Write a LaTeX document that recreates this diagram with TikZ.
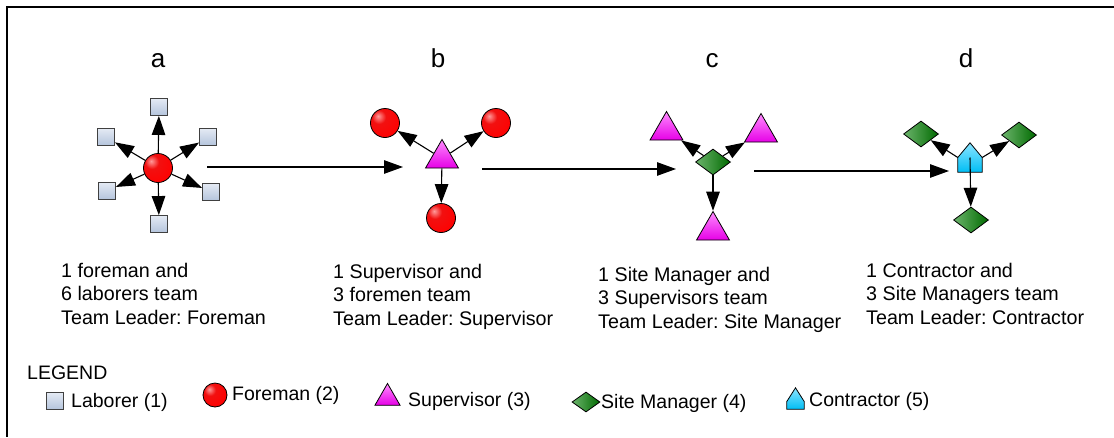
\documentclass[tikz,border=0pt]{standalone}
\usepackage{fontspec}
\setmainfont{Liberation Sans}
\usetikzlibrary{shapes.geometric,arrows.meta}
\frenchspacing

\definecolor{sqlight}{HTML}{E4EAF4}
\definecolor{sqdark}{HTML}{B4C4DC}
\definecolor{sqedge}{HTML}{404040}
\definecolor{maglight}{HTML}{FF8CFF}
\definecolor{magdark}{HTML}{E600E6}
\definecolor{grnlight}{HTML}{6CB46C}
\definecolor{grndark}{HTML}{006A00}
\definecolor{cyalight}{HTML}{8AE4FF}
\definecolor{cyadark}{HTML}{00BEF5}
\definecolor{redhi}{HTML}{FF9A9A}
\definecolor{redmid}{HTML}{F21010}
\definecolor{redlow}{HTML}{C80000}

% bright red sphere with a highlight towards the upper left
\pgfdeclareradialshading{redball}{\pgfpoint{-12bp}{12bp}}{%
  color(0bp)=(redhi); color(12bp)=(redmid); color(38bp)=(red); color(50bp)=(redlow); color(100bp)=(redlow)}

\tikzset{
  laborer/.style={draw=sqedge, line width=0.9pt, minimum size=17pt, inner sep=0pt,
    top color=sqlight, bottom color=sqdark},
  foreman/.style={circle, draw=black, line width=0.8pt, minimum size=#1, inner sep=0pt,
    shading=redball},
  foreman/.default=29pt,
  supervisor/.style={regular polygon, regular polygon sides=3, draw=black, line width=0.8pt,
    minimum size=#1, inner sep=0pt, top color=maglight, bottom color=magdark},
  supervisor/.default=38pt,
  sitemgr/.style={diamond, draw=black, line width=0.8pt, minimum width=#1, minimum height=26pt,
    inner sep=0pt, shading angle=45, left color=grnlight, right color=grndark},
  sitemgr/.default=35pt,
  housebox/.style={minimum width=24pt, minimum height=29pt, inner sep=0pt},
  houseshade/.style={draw=black, line width=0.8pt, top color=cyalight, bottom color=cyadark},
  arr/.style={draw=black, line width=1.1pt, -{Triangle[length=19pt,width=13.5pt]}},
  title/.style={font=\fontsize{26}{30}\selectfont, anchor=base},
  desc/.style={font=\fontsize{19.7}{23.5}\selectfont, align=left, anchor=north west, inner sep=0pt},
  leg/.style={font=\fontsize{19.5}{23}\selectfont, anchor=base west, inner sep=0pt},
}

\begin{document}
\begin{tikzpicture}[x=1pt, y=-1pt]
\useasboundingbox (0,0) rectangle (1114,437);
\fill[white] (0,0) rectangle (1114,437);

% frame (top and left edges)
\draw[line width=1.4pt] (1114,7) -- (7,7) -- (7,437);

% column titles
\node[title] (ta) at (158,67) {a};
\node[title] (tb) at (438,67) {b};
\node[title] (tc) at (712,67) {c};
\node[title] (td) at (966,67) {d};

% team a: foreman with six laborers
\node[foreman] (a0) at (158,168) {};
\node[laborer] (a1) at (159,107) {};
\node[laborer] (a2) at (106,137) {};
\node[laborer] (a3) at (208,137) {};
\node[laborer] (a4) at (107,191) {};
\node[laborer] (a5) at (211,192) {};
\node[laborer] (a6) at (159,224) {};
\foreach \i in {1,...,6} \draw[arr] (a0) -- (a\i);

% team b: supervisor with three foremen
\node[supervisor] (b0) at (442,158.5) {};
\node[foreman] (b1) at (385,123) {};
\node[foreman] (b2) at (496,123) {};
\node[foreman] (b3) at (441,218) {};
\foreach \i in {1,2,3} \draw[arr] (b0) -- (b\i);

% team c: site manager with three supervisors
\node[sitemgr] (c0) at (713,162) {};
\node[supervisor] (c1) at (666.5,130.5) {};
\node[supervisor] (c2) at (761,132.5) {};
\node[supervisor] (c3) at (713,230.5) {};
\foreach \i in {1,2,3} \draw[arr] (c0) -- (c\i);

% team d: contractor with three site managers
\node[housebox] (d0) at (970,157.5) {};
\path[houseshade] (d0.south west) -- (d0.south east) -- (d0.east) -- (d0.north) -- (d0.west) -- cycle;
\node[sitemgr] (d1) at (921,134) {};
\node[sitemgr] (d2) at (1019,135) {};
\node[sitemgr] (d3) at (971,220) {};
\draw[arr] (d0.west) -- (d1);
\draw[arr] (d0.east) -- (d2);
\draw[arr] (d0.center) -- (d3);

% progression arrows between teams
\coordinate (ab1) at (207,167);
\coordinate (ab2) at (403,167);
\coordinate (bc1) at (482,169);
\coordinate (bc2) at (676,169);
\coordinate (cd1) at (754,171);
\coordinate (cd2) at (949,171);
\draw[arr] (ab1) -- (ab2);
\draw[arr] (bc1) -- (bc2);
\draw[arr] (cd1) -- (cd2);

% team descriptions
\node[desc] (la) at (61,263) {1 foreman and\\6 laborers team\\Team Leader: Foreman};
\node[desc] (lb) at (333,264) {1 Supervisor and\\3 foremen team\\Team Leader: Supervisor};
\node[desc] (lc) at (598,267) {1 Site Manager and\\3 Supervisors team\\Team Leader: Site Manager};
\node[desc] (ld) at (866,263) {1 Contractor and\\3 Site Managers team\\Team Leader: Contractor};

% legend
\node[leg] (legt) at (27,379) {LEGEND};
\node[laborer] (g1) at (54.5,401) {};
\node[leg] (g1t) at (71,407) {Laborer (1)};
\node[foreman=24pt] (g2) at (215,395) {};
\node[leg] (g2t) at (232,400) {Foreman (2)};
\node[supervisor=29pt] (g3) at (387.5,398) {};
\node[leg] (g3t) at (408,406) {Supervisor (3)};
\node[sitemgr=28pt, minimum height=20pt] (g4) at (586,402) {};
\node[leg] (g4t) at (601,408) {Site Manager (4)};
\node[housebox, minimum width=17pt, minimum height=21pt] (g5) at (795.5,398.5) {};
\path[houseshade] (g5.south west) -- (g5.south east) -- ([yshift=-3pt]g5.east) -- (g5.north) -- ([yshift=-3pt]g5.west) -- cycle;
\node[leg] (g5t) at (809,406) {Contractor (5)};
\end{tikzpicture}
\end{document}
